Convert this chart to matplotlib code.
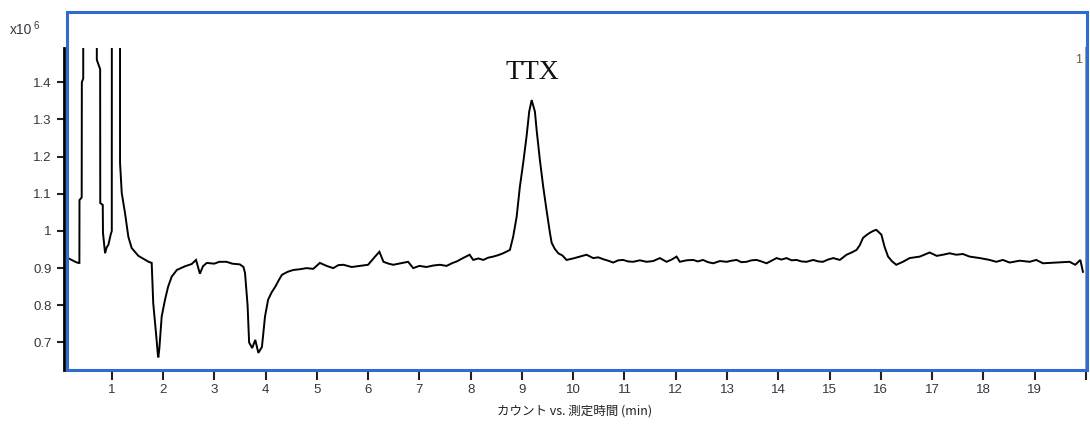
import matplotlib
matplotlib.use("Agg")
import matplotlib.pyplot as plt
from matplotlib.patches import Rectangle

# retention time (min) and counts (x10^6)
time_min = [
    0.15, 0.29, 0.345, 0.37, 0.372, 0.415, 0.418, 0.445, 0.448, 0.70, 0.71,
    0.775, 0.777, 0.826, 0.83, 0.871, 0.90, 0.936, 0.98, 1.002, 1.005, 1.16,
    1.163, 1.196, 1.26, 1.325, 1.39, 1.52, 1.72, 1.78, 1.81, 1.876, 1.90,
    1.91, 1.93, 1.975, 2.04, 2.10, 2.17, 2.27, 2.43, 2.56, 2.645, 2.72,
    2.78, 2.854, 3.0, 3.1, 3.24, 3.35, 3.5, 3.57, 3.6, 3.65, 3.68, 3.74,
    3.80, 3.86, 3.93, 3.99, 4.05, 4.12, 4.19, 4.26, 4.32, 4.43, 4.54, 4.67,
    4.80, 4.93, 5.06, 5.19, 5.32, 5.42, 5.52, 5.68, 5.84, 6.0, 6.13, 6.22,
    6.30, 6.40, 6.49, 6.64, 6.78, 6.88, 7.0, 7.14, 7.27, 7.40, 7.53, 7.65,
    7.73, 7.85, 7.98, 8.05, 8.15, 8.246, 8.34, 8.44, 8.54, 8.635, 8.766,
    8.83, 8.897, 8.96, 9.025, 9.09, 9.142, 9.19, 9.253, 9.287, 9.35, 9.415,
    9.48, 9.546, 9.58, 9.64, 9.708, 9.79, 9.87, 10.0, 10.13, 10.26, 10.39,
    10.49, 10.585, 10.68, 10.78, 10.88, 10.975, 11.07, 11.17, 11.30, 11.43,
    11.56, 11.69, 11.82, 11.92, 12.016, 12.08, 12.21, 12.34, 12.43, 12.53,
    12.63, 12.73, 12.86, 12.99, 13.09, 13.185, 13.28, 13.38, 13.48, 13.575,
    13.67, 13.77, 13.87, 13.965, 14.06, 14.16, 14.26, 14.355, 14.45, 14.55,
    14.68, 14.78, 14.87, 14.97, 15.07, 15.20, 15.33, 15.43, 15.525, 15.59,
    15.65, 15.72, 15.785, 15.85, 15.91, 16.01, 16.07, 16.14, 16.22, 16.30,
    16.43, 16.56, 16.76, 16.95, 17.09, 17.21, 17.34, 17.47, 17.60, 17.73,
    17.93, 18.12, 18.25, 18.38, 18.51, 18.71, 18.90, 19.03, 19.16, 19.42,
    19.68, 19.79, 19.89, 19.94,
]
counts_e6 = [
    0.927, 0.917, 0.914, 0.914, 1.083, 1.09, 1.40, 1.41, 3.0, 3.0, 1.46,
    1.435, 1.075, 1.07, 0.995, 0.94, 0.955, 0.963, 0.99, 1.0, 3.0, 3.0,
    1.183, 1.102, 1.048, 0.984, 0.954, 0.933, 0.917, 0.914, 0.806, 0.707, 0.667,
    0.66, 0.685, 0.77, 0.815, 0.85, 0.877, 0.895, 0.905, 0.911, 0.922, 0.885,
    0.905, 0.914, 0.912, 0.917, 0.917, 0.912, 0.91, 0.903, 0.887, 0.80, 0.70, 0.685,
    0.707, 0.672, 0.688, 0.77, 0.815, 0.835, 0.85, 0.868, 0.882, 0.89, 0.895, 0.897,
    0.90, 0.898, 0.914, 0.906, 0.90, 0.908, 0.909, 0.903, 0.906, 0.909, 0.93, 0.944,
    0.917, 0.912, 0.909, 0.913, 0.917, 0.90, 0.906, 0.903, 0.907, 0.909, 0.906, 0.914,
    0.918, 0.927, 0.936, 0.922, 0.926, 0.922, 0.928, 0.931, 0.935, 0.94, 0.949,
    0.985, 1.038, 1.119, 1.183, 1.254, 1.321, 1.352, 1.321, 1.271, 1.191, 1.119,
    1.056, 0.995, 0.968, 0.952, 0.94, 0.934, 0.922, 0.926, 0.931, 0.936, 0.927,
    0.929, 0.924, 0.92, 0.915, 0.921, 0.922, 0.918, 0.917, 0.921, 0.917,
    0.919, 0.927, 0.917, 0.923, 0.931, 0.917, 0.921, 0.922, 0.918, 0.922,
    0.916, 0.913, 0.919, 0.917, 0.92, 0.922, 0.916, 0.917, 0.921, 0.922,
    0.918, 0.913, 0.92, 0.927, 0.923, 0.927, 0.921, 0.922, 0.918, 0.917,
    0.922, 0.918, 0.917, 0.923, 0.927, 0.922, 0.936, 0.942, 0.949, 0.962,
    0.981, 0.989, 0.995, 1.0, 1.003, 0.99, 0.958, 0.931, 0.918, 0.909,
    0.917, 0.927, 0.931, 0.942, 0.933, 0.936, 0.94, 0.936, 0.938, 0.931,
    0.927, 0.922, 0.917, 0.922, 0.915, 0.92, 0.917, 0.922, 0.913, 0.915,
    0.917, 0.909, 0.922, 0.89,
]

x_ticks = list(range(1, 21))
x_tick_labels = [str(t) for t in range(1, 20)] + [""]
y_ticks = [0.7, 0.8, 0.9, 1.0, 1.1, 1.2, 1.3, 1.4]
y_tick_labels = ["0.7", "0.8", "0.9", "1", "1.1", "1.2", "1.3", "1.4"]
peak_label = "TTX"
peak_pos = (9.21, 1.427)

W, H = 1090, 424
fig = plt.figure(figsize=(W / 100, H / 100), dpi=100)
ax = fig.add_axes([64 / W, 1 - 370 / H, (1086 - 64) / W, (370 - 48) / H])

ax.plot(time_min, counts_e6, color="black", lw=1.4, solid_joinstyle="miter")
ax.set_xlim(0.07, 19.98)
ax.set_ylim(0.626, 1.492)

ax.set_xticks(x_ticks)
ax.set_xticklabels(x_tick_labels)
ax.set_yticks(y_ticks)
ax.set_yticklabels(y_tick_labels)
tick_color = "#3a3340"
ax.tick_params(axis="x", length=7, width=1.5, pad=3, labelsize=9.5,
               labelcolor=tick_color, color="#222222")
ax.tick_params(axis="y", length=5, width=1.5, pad=4, labelsize=9.5,
               labelcolor=tick_color, color="#222222")
for lab in ax.get_xticklabels() + ax.get_yticklabels():
    lab.set_family("Liberation Sans")

ax.spines["top"].set_visible(False)
ax.spines["bottom"].set_visible(False)
ax.spines["right"].set_color("#a0a0a0")
ax.spines["right"].set_linewidth(1.5)
ax.spines["left"].set_linewidth(2.0)
ax.spines["left"].set_color("black")

ax.text(*peak_pos, peak_label, ha="center", va="center", fontsize=20,
        family="Liberation Serif", color="#111111")

# blue selection frame around the plot
fig.patches.append(Rectangle((67 / W, 1 - 370 / H), (1087 - 67) / W, (370 - 12) / H,
                             transform=fig.transFigure, fill=False,
                             edgecolor="#2f6bd1", lw=2.2, zorder=5))

fig.text(10 / W, 1 - 30 / H, "x10", fontsize=10, family="Liberation Sans",
         color=tick_color, va="center")
fig.text(33 / W, 1 - 26 / H, "6", fontsize=7, family="Liberation Sans",
         color=tick_color, va="center")
fig.text(1079 / W, 1 - 60 / H, "1", fontsize=9, family="Liberation Sans",
         color="#6b5a3a", ha="center", va="center")

fig.text(575 / W, 1 - 411 / H, "カウント vs. 測定時間 (min)", fontsize=9,
         family=["Noto Sans CJK JP", "DejaVu Sans"], color="#222222",
         ha="center", va="center")

fig.savefig("out.png", dpi=100, facecolor="white")
